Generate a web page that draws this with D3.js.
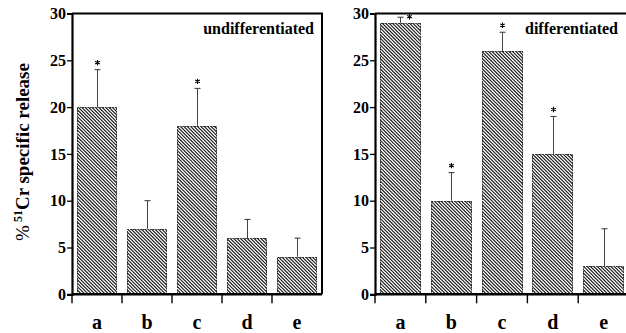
<!DOCTYPE html>
<html>
<head>
<meta charset="utf-8">
<script src="https://cdn.jsdelivr.net/npm/d3@7"></script>
<style>
  body { margin: 0; background: #fff; }
  svg { display: block; }
</style>
</head>
<body>
<svg id="chart"></svg>
<script>
// data
const categories = ["a", "b", "c", "d", "e"];
const yTicks = [0, 5, 10, 15, 20, 25, 30];

const undiffValues = [20, 7, 18, 6, 4];
const undiffErrors = [4, 3, 4, 2, 2];
const undiffStars = [true, false, true, false, false];

const diffValues = [29, 10, 26, 15, 3];
const diffErrors = [0.6, 3, 2, 4, 4];
const diffStars = [true, true, true, true, false];

const width = 626;
const height = 333;
const serif = "'Liberation Serif', 'DejaVu Serif', serif";
const hatchGap = 3.4;

const svg = d3.select("#chart")
  .attr("width", width)
  .attr("height", height);

const defs = svg.append("defs");

const yScale = d3.scaleLinear()
  .domain([0, 30])
  .range([294.3, 13.5]);

const star = d3.symbol(d3.symbolAsterisk, 20);

function drawPanel(id, left, right, values, errors, stars, title) {
  const g = svg.append("g");

  const xScale = d3.scaleBand()
    .domain(categories)
    .range([left, right])
    .paddingInner(0.2)
    .paddingOuter(0.1);

  const rows = categories.map((c, i) => ({
    cat: c, value: values[i], err: errors[i], star: stars[i],
    x: Math.round(xScale(c)),
    y: Math.round(yScale(values[i])),
    w: Math.round(xScale.bandwidth()),
    h: Math.round(yScale(0)) - Math.round(yScale(values[i])),
    clip: `clip-${id}-${c}`
  }));

  // clip rects for the hatching
  defs.selectAll(null)
    .data(rows)
    .enter()
    .append("clipPath")
    .attr("id", d => d.clip)
    .append("rect")
    .attr("x", d => d.x).attr("y", d => d.y)
    .attr("width", d => d.w).attr("height", d => d.h);

  // bars: white, then \\\ hatching, then dotted outline
  const bars = g.selectAll("g.bar")
    .data(rows)
    .enter()
    .append("g");

  bars.append("rect")
    .attr("x", d => d.x).attr("y", d => d.y)
    .attr("width", d => d.w).attr("height", d => d.h)
    .attr("fill", "#fff");

  bars.append("path")
    .attr("clip-path", d => `url(#${d.clip})`)
    .attr("d", d => d3.range(d.x - d.h - hatchGap, d.x + d.w + hatchGap, hatchGap)
      .map(k => `M${k},${d.y - 1}L${k + d.h + 3},${d.y + d.h + 2}`).join(""))
    .attr("stroke", "#1a1a1a")
    .attr("stroke-width", 1.15);

  bars.append("rect")
    .attr("x", d => d.x + 0.5).attr("y", d => d.y + 0.5)
    .attr("width", d => d.w - 1).attr("height", d => d.h)
    .attr("fill", "none")
    .attr("stroke", "#333")
    .attr("stroke-width", 1)
    .attr("stroke-dasharray", "1.5,1");

  // error bars
  const cx = d => Math.round(xScale(d.cat) + xScale.bandwidth() / 2) + 0.5;
  g.selectAll("line.err")
    .data(rows)
    .enter()
    .append("line")
    .attr("x1", cx).attr("x2", cx)
    .attr("y1", d => yScale(d.value))
    .attr("y2", d => yScale(d.value + d.err))
    .attr("stroke", "#444")
    .attr("stroke-width", 1);

  g.selectAll("line.cap")
    .data(rows)
    .enter()
    .append("line")
    .attr("x1", d => cx(d) - 3).attr("x2", d => cx(d) + 3)
    .attr("y1", d => yScale(d.value + d.err))
    .attr("y2", d => yScale(d.value + d.err))
    .attr("stroke", "#333")
    .attr("stroke-width", 1);

  // asterisks (beside the cap when there is no room above it)
  const tight = d => yScale(d.value + d.err) - 9 < yScale(30);
  g.selectAll("path.star")
    .data(rows.filter(d => d.star))
    .enter()
    .append("path")
    .attr("d", star)
    .attr("transform", d => tight(d)
      ? `translate(${cx(d) + 9},${yScale(d.value + d.err) - 0.5})`
      : `translate(${cx(d)},${yScale(d.value + d.err) - 7})`)
    .attr("fill", "none")
    .attr("stroke", "#000")
    .attr("stroke-width", 1.1);

  // frame: top and right
  g.append("path")
    .attr("d", `M${left},${yScale(30)} H${right} V${yScale(0)}`)
    .attr("fill", "none")
    .attr("stroke", "#000")
    .attr("stroke-width", 2);

  // y axis
  const yAxis = g.append("g")
    .attr("transform", `translate(${left},0)`)
    .call(d3.axisLeft(yScale).tickValues(yTicks).tickSize(5).tickPadding(1));
  yAxis.select(".domain").attr("stroke-width", 2.2);
  yAxis.selectAll(".tick line").attr("stroke-width", 1.3);
  yAxis.selectAll("text")
    .attr("font-family", serif)
    .attr("font-weight", "bold")
    .attr("font-size", 16)
    .attr("fill", "#000");

  // bottom axis with ticks at the category boundaries
  const half = (xScale.step() - xScale.bandwidth()) / 2;
  g.append("line")
    .attr("x1", left).attr("x2", right)
    .attr("y1", yScale(0)).attr("y2", yScale(0))
    .attr("stroke", "#000")
    .attr("stroke-width", 2.5);

  g.selectAll("line.bound")
    .data(categories)
    .enter()
    .append("line")
    .attr("x1", d => xScale(d) - half)
    .attr("x2", d => xScale(d) - half)
    .attr("y1", yScale(0))
    .attr("y2", yScale(0) + 9)
    .attr("stroke", "#000")
    .attr("stroke-width", 1.4);

  g.selectAll("text.cat")
    .data(categories)
    .enter()
    .append("text")
    .attr("x", d => xScale(d) + xScale.bandwidth() / 2)
    .attr("y", 329)
    .attr("text-anchor", "middle")
    .attr("font-family", serif)
    .attr("font-weight", "bold")
    .attr("font-size", 20)
    .text(d => d);

  g.append("text")
    .attr("x", Math.min(right, width) - 8)
    .attr("y", 34)
    .attr("text-anchor", "end")
    .attr("font-family", serif)
    .attr("font-weight", "bold")
    .attr("font-size", 16)
    .text(title);
}

drawPanel("u", 72, 322, undiffValues, undiffErrors, undiffStars, "undifferentiated");
drawPanel("d", 375, 629, diffValues, diffErrors, diffStars, "differentiated");

// y axis title
const yTitle = svg.append("text")
  .attr("transform", "translate(29,152) rotate(-90)")
  .attr("text-anchor", "middle")
  .attr("font-family", serif)
  .attr("font-size", 19);
yTitle.append("tspan").text("%");
yTitle.append("tspan")
  .attr("dx", 3)
  .attr("dy", -7)
  .attr("font-size", 12)
  .attr("font-weight", "bold")
  .text("51");
yTitle.append("tspan")
  .attr("dy", 7)
  .attr("font-weight", "bold")
  .text("Cr specific release");
</script>
</body>
</html>
